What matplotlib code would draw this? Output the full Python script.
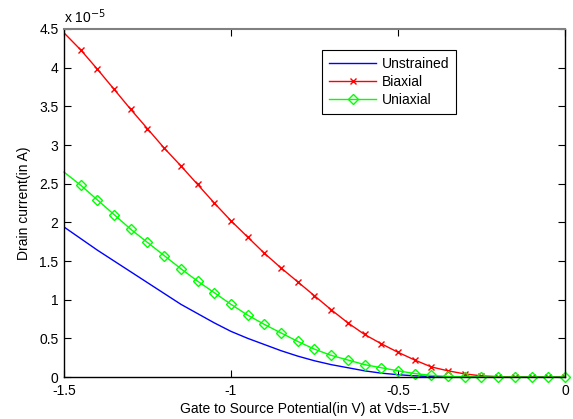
import numpy as np
import matplotlib
matplotlib.use("Agg")
import matplotlib.pyplot as plt

# -----------------------------
# data (drain current in units of 1e-5 A)
# -----------------------------

vgs = [-1.5, -1.45, -1.4, -1.35, -1.3, -1.25, -1.2, -1.15, -1.1, -1.05,
       -1.0, -0.95, -0.9, -0.85, -0.8, -0.75, -0.7, -0.65, -0.6, -0.55,
       -0.5, -0.45, -0.4, -0.35, -0.3, -0.25, -0.2, -0.15, -0.1, -0.05, 0.0]

unstrained = [1.94, 1.79, 1.64, 1.50, 1.36, 1.22, 1.08, 0.94, 0.82, 0.70,
              0.59, 0.50, 0.42, 0.34, 0.27, 0.21, 0.16, 0.12, 0.08, 0.05,
              0.03, 0.015, 0.006, 0.002, 0.0, 0.0, 0.0, 0.0, 0.0, 0.0, 0.0]

biaxial = [4.45, 4.23, 3.98, 3.72, 3.46, 3.21, 2.96, 2.73, 2.49, 2.25,
           2.02, 1.81, 1.60, 1.41, 1.23, 1.05, 0.87, 0.70, 0.55, 0.43,
           0.32, 0.22, 0.13, 0.08, 0.04, 0.015, 0.005, 0.001, 0.0, 0.0, 0.0]

uniaxial = [2.65, 2.48, 2.29, 2.10, 1.91, 1.74, 1.57, 1.40, 1.24, 1.09,
            0.94, 0.80, 0.68, 0.57, 0.46, 0.36, 0.28, 0.22, 0.16, 0.12,
            0.08, 0.045, 0.02, 0.008, 0.003, 0.0, 0.0, 0.0, 0.0, 0.0, 0.0]

xticks = [-1.5, -1, -0.5, 0]
xtick_labels = ["-1.5", "-1", "-0.5", "0"]
yticks = [0, 0.5, 1, 1.5, 2, 2.5, 3, 3.5, 4, 4.5]
ytick_labels = ["0", "0.5", "1", "1.5", "2", "2.5", "3", "3.5", "4", "4.5"]

# -----------------------------
# plot
# -----------------------------

plt.rcParams["font.family"] = ["Liberation Sans", "DejaVu Sans"]
plt.rcParams["font.size"] = 10

fig = plt.figure(figsize=(5.73, 4.19), dpi=100)
ax = fig.add_axes([0.1117, 0.1002, 0.8743, 0.8306])

ax.plot(vgs, unstrained, color="#0000ff", lw=1, label="Unstrained")
ax.plot(vgs, biaxial, color="#ff0000", lw=1, marker="x", ms=5, mew=1,
        markevery=slice(1, None), label="Biaxial")
ax.plot(vgs, uniaxial, color="#00ff00", lw=1, marker="D", ms=4.8, mew=1,
        mfc="none", markevery=slice(1, None), label="Uniaxial", clip_on=False)

ax.set_xlim(-1.5, 0)
ax.set_ylim(0, 4.5)
ax.set_xticks(xticks)
ax.set_xticklabels(xtick_labels)
ax.set_yticks(yticks)
ax.set_yticklabels(ytick_labels)
ax.tick_params(direction="in", length=5, width=0.8, top=True, right=True,
               colors="black", labelsize=10)
ax.tick_params(axis="x", pad=5)
ax.tick_params(axis="y", pad=4)

for side in ["left", "bottom", "right"]:
    ax.spines[side].set_color("black")
    ax.spines[side].set_linewidth(1)
ax.spines["top"].set_color("#808080")
ax.spines["top"].set_linewidth(1.5)

ax.set_xlabel("Gate to Source Potential(in V) at Vds=-1.5V", fontsize=10, labelpad=3)
ax.set_ylabel("Drain current(in A)", fontsize=10, labelpad=6)
ax.text(0.0, 1.01, r"x 10$^{-5}$", transform=ax.transAxes, fontsize=10,
        ha="left", va="bottom")

leg = ax.legend(loc="upper left", bbox_to_anchor=(0.515, 0.94), fontsize=10,
                fancybox=False, framealpha=1, edgecolor="black",
                handlelength=3.4, borderpad=0.5, labelspacing=0.3,
                handletextpad=0.4, borderaxespad=0)
leg.get_frame().set_linewidth(0.8)

fig.savefig("out.png", dpi=100)
